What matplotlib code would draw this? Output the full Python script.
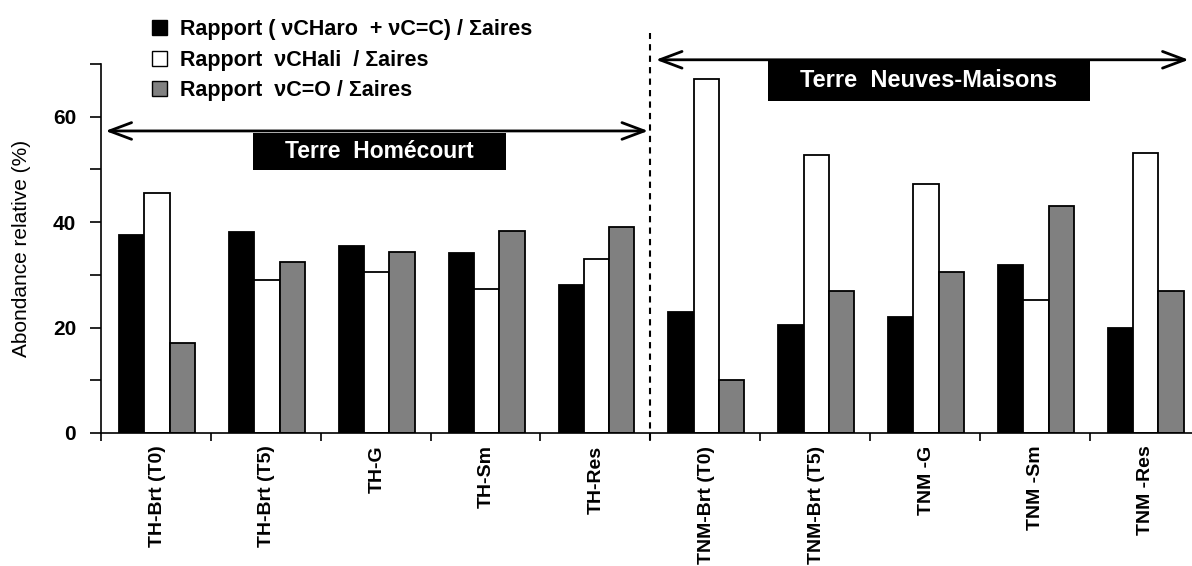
import matplotlib
matplotlib.use("Agg")
import matplotlib.pyplot as plt
from matplotlib.patches import Patch, Rectangle
import numpy as np

plt.rcParams['font.family'] = ['Liberation Sans', 'DejaVu Sans']

categories = ["TH-Brt (T0)", "TH-Brt (T5)", "TH-G", "TH-Sm", "TH-Res",
              "TNM-Brt (T0)", "TNM-Brt (T5)", "TNM -G", "TNM -Sm", "TNM -Res"]
aro = [37.6, 38.2, 35.5, 34.2, 28.1, 23.0, 20.4, 22.1, 31.9, 19.9]
ali = [45.6, 29.0, 30.5, 27.4, 33.0, 67.1, 52.8, 47.2, 25.2, 53.2]
co = [17.0, 32.4, 34.4, 38.3, 39.1, 10.0, 26.9, 30.5, 43.1, 26.9]
series_labels = ["Rapport ( \u03bdCHaro  + \u03bdC=C) / \u03a3aires",
                 "Rapport  \u03bdCHali  / \u03a3aires",
                 "Rapport  \u03bdC=O / \u03a3aires"]
colors = ["#000000", "#ffffff", "#808080"]
group_labels = ["Terre  Hom\u00e9court", "Terre  Neuves-Maisons"]

fig = plt.figure(figsize=(11.92, 5.66), dpi=100)
ax = fig.add_axes([101/1192, 1-433/566, 1-101/1192, (433-64)/566])

x = np.arange(len(categories)) + 0.51
w = 0.23
for i, (vals, c) in enumerate(zip([aro, ali, co], colors)):
    ax.bar(x + (i - 1) * w, vals, width=w, color=c, edgecolor='black', linewidth=1.3, zorder=2)

ax.set_xlim(0, 9.93)
ax.set_ylim(0, 70)
ax.spines['top'].set_visible(False)
ax.spines['right'].set_visible(False)
ax.spines['left'].set_linewidth(1.2)
ax.spines['bottom'].set_linewidth(1.2)

ax.set_yticks([0, 20, 40, 60])
ax.set_yticks([10, 30, 50, 70], minor=True)
ax.tick_params(axis='y', which='both', direction='out', length=8, width=1.2)
ax.tick_params(axis='y', which='major', labelsize=15, pad=10)
for t in ax.get_yticklabels():
    t.set_fontweight('bold')

ax.set_xticks(np.arange(0, 10))
ax.set_xticklabels([])
ax.set_xticks(x, minor=True)
ax.set_xticklabels(categories, minor=True, rotation=90, fontsize=14, fontweight='bold', va='top')
ax.tick_params(axis='x', which='minor', length=0, pad=9)
ax.tick_params(axis='x', which='major', direction='out', length=6, width=1.2)

ax.set_ylabel("Abondance relative (%)", fontsize=15, labelpad=16)

# separator
ax.plot([5.0, 5.0], [-1.4, 75.8], linestyle=(0, (3, 2.5)), color='black', lw=1.5, clip_on=False, zorder=3)

# group arrows
astyle = '<->,head_length=1.6,head_width=0.6'
ax.annotate("", xy=(0.04, 57.3), xytext=(4.98, 57.3), annotation_clip=False,
            arrowprops=dict(arrowstyle=astyle, lw=2, color='black', shrinkA=0, shrinkB=0))
ax.annotate("", xy=(5.05, 70.8), xytext=(9.9, 70.8), annotation_clip=False,
            arrowprops=dict(arrowstyle=astyle, lw=2, color='black', shrinkA=0, shrinkB=0))

ax.add_patch(Rectangle((1.38, 49.9), 3.69 - 1.38, 57.0 - 49.9, facecolor='black', edgecolor='none',
                       clip_on=False, zorder=4))
ax.text((1.38 + 3.69) / 2, 53.4, group_labels[0], color='white', fontsize=16.5, fontweight='bold',
        ha='center', va='center', zorder=5)
ax.add_patch(Rectangle((6.07, 62.9), 9.0 - 6.07, 70.9 - 62.9, facecolor='black', edgecolor='none',
                       clip_on=False, zorder=4))
ax.text((6.07 + 9.0) / 2, 66.9, group_labels[1], color='white', fontsize=17, fontweight='bold',
        ha='center', va='center', zorder=5, clip_on=False)

handles = [Patch(facecolor=c, edgecolor='black', linewidth=1.0) for c in colors]
leg = fig.legend(handles, series_labels, loc='upper left', bbox_to_anchor=(152/1192, 1 - 19/566),
                 frameon=False, prop=dict(weight='bold', size=15.5), handlelength=0.7, handleheight=0.7,
                 handletextpad=0.6, labelspacing=0.45, borderaxespad=0, borderpad=0)

fig.savefig("out.png", dpi=100)
